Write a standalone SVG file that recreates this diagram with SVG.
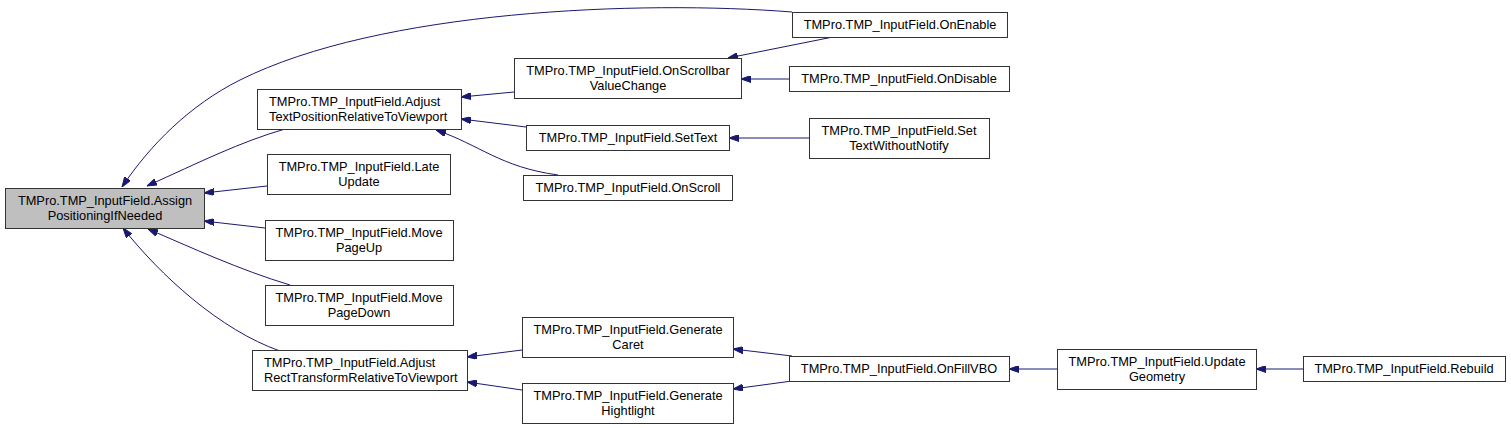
<svg xmlns="http://www.w3.org/2000/svg" width="1511" height="428" viewBox="0 0 1511 428">
<style>
.n rect{fill:#fff;stroke:#333;stroke-width:1}
.n.root rect{fill:#bfbfbf}
.n text{font-family:"Liberation Sans",Arial,sans-serif;font-size:12.8px;fill:#000;text-anchor:middle}
.n text.l{text-anchor:start}
#edges path{fill:none;stroke:#191970;stroke-width:1;marker-start:url(#ah)}
</style>
<defs>
<marker id="ah" viewBox="0 0 10 7" refX="10" refY="3.5" markerWidth="10" markerHeight="7" markerUnits="userSpaceOnUse" orient="auto-start-reverse">
<polygon points="0,0 10,3.5 0,7" fill="#191970" stroke="#191970"/>
</marker>
</defs>
<rect width="1511" height="428" fill="#fff"/>
<g id="edges">
<path d="M122,187 C150,145 190,105 240,80 C380,10 640,0 792,12"/>
<path d="M147,186 C200,162 240,142 285,129"/>
<path d="M204,193 L267,186"/>
<path d="M204,221 L265,228"/>
<path d="M148,229 C190,247 240,270 290,285"/>
<path d="M123,228 C160,275 220,330 280,351"/>
<path d="M461,97 L514,92"/>
<path d="M461,119 L526,127"/>
<path d="M436,130 C480,145 500,167 558,175"/>
<path d="M728,58 L833,37"/>
<path d="M741,79 L789,79"/>
<path d="M729,138 L809,138"/>
<path d="M467,357 L522,350"/>
<path d="M467,382 L522,390"/>
<path d="M733,349 L792,356"/>
<path d="M733,389 L792,381"/>
<path d="M1009,369 L1057,369"/>
<path d="M1256,369 L1303,369"/>
</g>
<g id="n_root" class="n root"><rect x="5.5" y="188.5" width="199" height="40"/><text x="105" y="204.5">TMPro.TMP_InputField.Assign</text><text x="105" y="219.5">PositioningIfNeeded</text></g>
<g id="n_adjtext" class="n"><rect x="257.5" y="89.5" width="204" height="40"/><text class="l" x="269" y="105.5">TMPro.TMP_InputField.Adjust</text><text class="l" x="269" y="120.5">TextPositionRelativeToViewport</text></g>
<g id="n_late" class="n"><rect x="267.5" y="154.5" width="183" height="40"/><text x="359" y="170.5">TMPro.TMP_InputField.Late</text><text x="359" y="185.5">Update</text></g>
<g id="n_pageup" class="n"><rect x="265.5" y="220.5" width="188" height="40"/><text x="359" y="236.5">TMPro.TMP_InputField.Move</text><text x="359" y="251.5">PageUp</text></g>
<g id="n_pagedown" class="n"><rect x="265.5" y="285.5" width="188" height="40"/><text x="359" y="301.5">TMPro.TMP_InputField.Move</text><text x="359" y="316.5">PageDown</text></g>
<g id="n_adjrect" class="n"><rect x="252.5" y="350.5" width="215" height="40"/><text class="l" x="264" y="366.5">TMPro.TMP_InputField.Adjust</text><text class="l" x="264" y="381.5">RectTransformRelativeToViewport</text></g>
<g id="n_onenable" class="n"><rect x="792.5" y="12.5" width="215" height="25"/><text x="900" y="29">TMPro.TMP_InputField.OnEnable</text></g>
<g id="n_scrollbar" class="n"><rect x="514.5" y="58.5" width="227" height="40"/><text x="628" y="74.5">TMPro.TMP_InputField.OnScrollbar</text><text x="628" y="89.5">ValueChange</text></g>
<g id="n_ondisable" class="n"><rect x="789.5" y="66.5" width="220" height="25"/><text x="899" y="83">TMPro.TMP_InputField.OnDisable</text></g>
<g id="n_settext" class="n"><rect x="526.5" y="125.5" width="203" height="25"/><text x="628" y="142">TMPro.TMP_InputField.SetText</text></g>
<g id="n_setnotify" class="n"><rect x="809.5" y="118.5" width="180" height="40"/><text x="899" y="134.5">TMPro.TMP_InputField.Set</text><text x="899" y="149.5">TextWithoutNotify</text></g>
<g id="n_onscroll" class="n"><rect x="523.5" y="175.5" width="209" height="25"/><text x="628" y="192">TMPro.TMP_InputField.OnScroll</text></g>
<g id="n_caret" class="n"><rect x="522.5" y="317.5" width="211" height="40"/><text x="628" y="333.5">TMPro.TMP_InputField.Generate</text><text x="628" y="348.5">Caret</text></g>
<g id="n_highlight" class="n"><rect x="522.5" y="383.5" width="211" height="40"/><text x="628" y="399.5">TMPro.TMP_InputField.Generate</text><text x="628" y="414.5">Hightlight</text></g>
<g id="n_fillvbo" class="n"><rect x="789.5" y="356.5" width="220" height="25"/><text x="899" y="373">TMPro.TMP_InputField.OnFillVBO</text></g>
<g id="n_updgeo" class="n"><rect x="1057.5" y="349.5" width="199" height="40"/><text x="1157" y="365.5">TMPro.TMP_InputField.Update</text><text x="1157" y="380.5">Geometry</text></g>
<g id="n_rebuild" class="n"><rect x="1303.5" y="356.5" width="202" height="25"/><text x="1404" y="373">TMPro.TMP_InputField.Rebuild</text></g>
</svg>
